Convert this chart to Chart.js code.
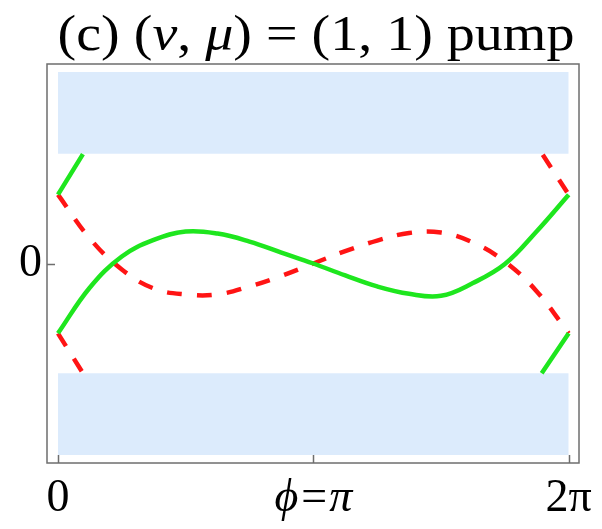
<!DOCTYPE html>
<html>
<head>
<meta charset="utf-8">
<script src="https://cdn.jsdelivr.net/npm/chart.js@4/dist/chart.umd.min.js"></script>
<style>
  html, body { margin: 0; padding: 0; background: #ffffff; }
  #wrap { width: 602px; height: 529px; position: relative; }
</style>
</head>
<body>
<div id="wrap"><canvas id="chart" width="602" height="529"></canvas></div>
<script>
// Pump phase samples (0 .. 2π in steps of π/8)
const phase = [0, 0.3927, 0.7854, 1.1781, 1.5708, 1.9635, 2.3562, 2.7489, 3.1416,
               3.5343, 3.9270, 4.3197, 4.7124, 5.1051, 5.4978, 5.8905, 6.2832];

// Edge-state branches inside the gap
const greenBranch = [-0.35, -0.12, 0.035, 0.118, 0.16, 0.15, 0.11, 0.055, 0,
                     -0.06, -0.115, -0.152, -0.162, -0.098, -0.003, 0.162, 0.345];
const redBranch   = [0.345, 0.125, -0.03, -0.125, -0.155, -0.155, -0.115, -0.062, 0,
                     0.062, 0.115, 0.153, 0.155, 0.105, 0.01, -0.14, -0.35];

// Short pieces where the branches merge into the bulk bands
const greenLeftPhase  = [0, 0.307];
const greenLeftE      = [0.345, 0.548];
const redLeftPhase    = [0, 0.307];
const redLeftE        = [-0.35, -0.55];
const redRightPhase   = [5.964, 6.2832];
const redRightE       = [0.545, 0.345];
const greenRightPhase = [5.951, 6.2832];
const greenRightE     = [-0.55, -0.35];

// Bulk bands (energy limits) spanning the full pump cycle
const bandPhase = [0, 6.2832];
const upperBand = [0.55, 0.96];
const lowerBand = [-0.96, -0.55];

// Axis ticks
const xTickValues = [0, 3.1416, 6.2832];
const xTickLabels = ['0', 'ϕ=π', '2π'];
const yTickValues = [0];
const yTickLabels = ['0'];

const GREEN = '#1ee61e';
const RED = '#ff1414';
const BAND = '#dcebfc';
const FRAME = '#6e6e6e';
const SERIF = "'Liberation Serif', 'Times New Roman', serif";

const pts = (xs, ys) => xs.map((x, i) => ({ x: x, y: ys[i] }));
const flat = (xs, v) => xs.map(x => ({ x: x, y: v }));

const bandSet = (data, fill) => ({
  data: data, fill: fill, backgroundColor: BAND, borderWidth: 0,
  pointRadius: 0, order: 5
});
const curve = (data, color, dashed) => ({
  data: data, borderColor: color, borderWidth: 4.5, fill: false,
  pointRadius: 0, tension: 0.4,
  borderDash: dashed ? [15, 15] : [], borderCapStyle: 'butt',
  order: dashed ? 2 : 1
});

// Frame, inward tick marks and the mixed-style title
const decorations = {
  id: 'decorations',
  afterDraw(chart) {
    const { ctx, chartArea: a, scales } = chart;
    ctx.save();
    ctx.strokeStyle = FRAME;
    ctx.lineWidth = 1.5;
    ctx.strokeRect(a.left, a.top, a.right - a.left, a.bottom - a.top);
    ctx.beginPath();
    xTickValues.forEach(v => {
      const px = Math.round(scales.x.getPixelForValue(v)) + 0.5;
      ctx.moveTo(px, a.bottom);
      ctx.lineTo(px, a.bottom - 8);
    });
    yTickValues.forEach(v => {
      const py = Math.round(scales.y.getPixelForValue(v)) + 0.5;
      ctx.moveTo(a.left, py);
      ctx.lineTo(a.left + 8, py);
    });
    ctx.stroke();

    const parts = [
      { t: '(c) (', it: false },
      { t: 'ν', it: true },
      { t: ', ', it: false },
      { t: 'μ', it: true },
      { t: ') = (1, 1) pump', it: false }
    ];
    const size = 50;
    const stretch = 1.12;
    const fontOf = p => (p.it ? 'italic ' : '') + size + 'px ' + SERIF;
    let total = 0;
    parts.forEach(p => { ctx.font = fontOf(p); p.w = ctx.measureText(p.t).width; total += p.w; });
    const cx = (a.left + a.right) / 2 + 3;
    ctx.translate(cx - total * stretch / 2, 50);
    ctx.scale(stretch, 1);
    ctx.fillStyle = '#000000';
    ctx.textBaseline = 'alphabetic';
    ctx.textAlign = 'left';
    let x = 0;
    parts.forEach(p => { ctx.font = fontOf(p); ctx.fillText(p.t, x, 0); x += p.w; });
    ctx.restore();
  }
};

new Chart(document.getElementById('chart'), {
  type: 'line',
  data: {
    datasets: [
      curve(pts(phase, greenBranch), GREEN, false),
      curve(pts(greenLeftPhase, greenLeftE), GREEN, false),
      curve(pts(greenRightPhase, greenRightE), GREEN, false),
      curve(pts(phase, redBranch), RED, true),
      curve(pts(redLeftPhase, redLeftE), RED, true),
      curve(pts(redRightPhase, redRightE), RED, true),
      bandSet(flat(bandPhase, upperBand[1]), '+1'),
      bandSet(flat(bandPhase, upperBand[0]), false),
      bandSet(flat(bandPhase, lowerBand[1]), '+1'),
      bandSet(flat(bandPhase, lowerBand[0]), false)
    ]
  },
  options: {
    responsive: false,
    animation: false,
    events: [],
    layout: { autoPadding: false, padding: { top: 64, right: 23, left: 0, bottom: 0 } },
    plugins: { legend: { display: false }, tooltip: { enabled: false }, title: { display: false } },
    scales: {
      x: {
        type: 'linear', min: -0.135, max: 6.41,
        grid: { display: false, drawTicks: false },
        border: { display: false },
        afterBuildTicks: s => { s.ticks = xTickValues.map(v => ({ value: v })); },
        afterFit: s => { s.height = 66; },
        ticks: {
          padding: 8, maxRotation: 0, autoSkip: false, color: '#000000',
          font: c => ({ family: SERIF, size: 46, style: c.index === 1 ? 'italic' : 'normal' }),
          callback: (v, i) => xTickLabels[i]
        }
      },
      y: {
        type: 'linear', min: -1, max: 1,
        grid: { display: false, drawTicks: false },
        border: { display: false },
        afterBuildTicks: s => { s.ticks = yTickValues.map(v => ({ value: v })); },
        afterFit: s => { s.width = 47; },
        ticks: {
          padding: 5, color: '#000000',
          font: { family: SERIF, size: 46 },
          callback: (v, i) => yTickLabels[i]
        }
      }
    }
  },
  plugins: [decorations]
});
</script>
</body>
</html>
